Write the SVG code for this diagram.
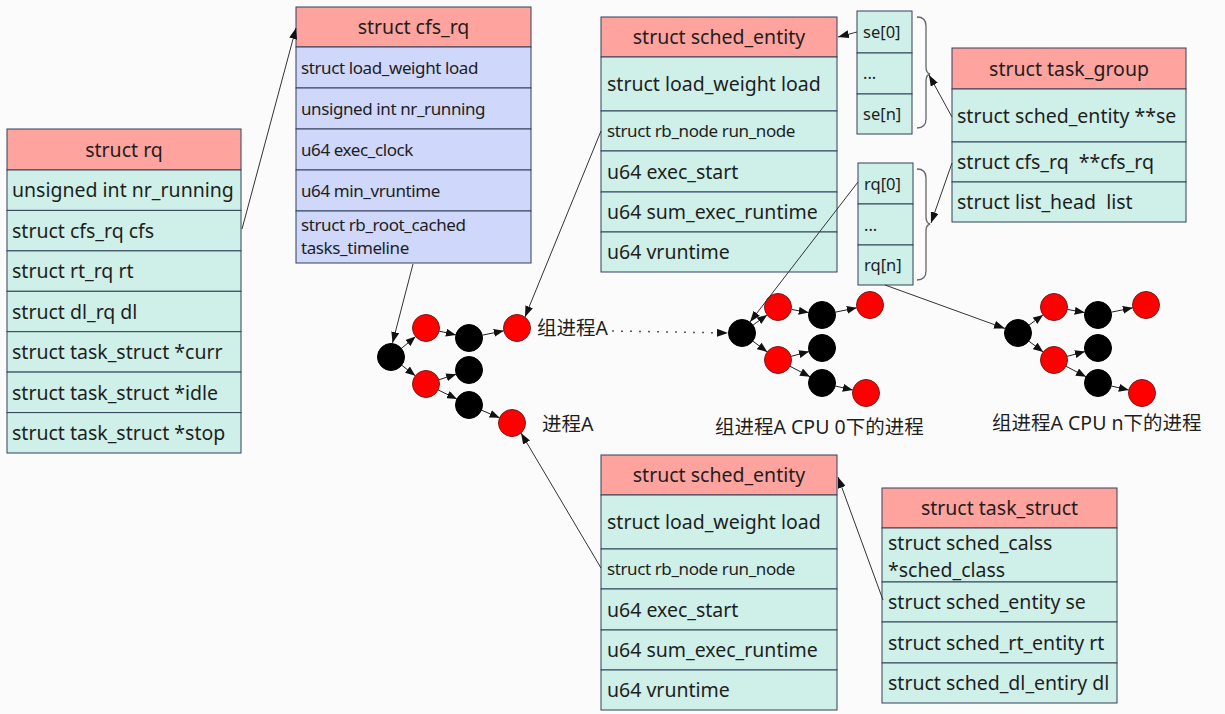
<svg xmlns="http://www.w3.org/2000/svg" width="1225" height="714" viewBox="0 0 1225 714">
<style>
.hd{fill:#ffa39e;stroke:#33415a;stroke-width:1}
.rw{fill:#cff0e8;stroke:#33415a;stroke-width:1}
.lv{fill:#cfd7fb;stroke:#33415a;stroke-width:1}
text{font-family:"Noto Sans","Noto Sans CJK SC",sans-serif;fill:#1e1e1e}
.t{font-size:19.5px}
.h{font-size:19.5px;text-anchor:middle}
.c{font-size:17px;letter-spacing:-0.4px}
.s{font-size:16.5px}
.cn{font-size:19.5px}
.ln{stroke:#333;stroke-width:1;fill:none}
.te{stroke:#222;stroke-width:1;fill:none}
.br{stroke:#666;stroke-width:1.3;fill:none}
.red{fill:#ff0000;stroke:#7a1a1a;stroke-width:1}
.blk{fill:#000;stroke:#000;stroke-width:1}
</style>
<defs>
<marker id="ah" markerUnits="userSpaceOnUse" markerWidth="11" markerHeight="8" refX="11" refY="4" orient="auto"><path d="M0,0 L11,4 L0,8 z" fill="#111"/></marker>
<marker id="ta" markerUnits="userSpaceOnUse" markerWidth="10" markerHeight="8" refX="10" refY="4" orient="auto"><path d="M0,0 L10,4 L0,8 z" fill="#111"/></marker>
</defs>
<rect width="1225" height="714" fill="#fbfbfb"/>

<g id="rq">
<rect class="hd" x="7" y="129" width="234" height="41"/>
<text class="h" x="124" y="156.5">struct rq</text>
<rect class="rw" x="7" y="170" width="234" height="40.4"/>
<rect class="rw" x="7" y="210.4" width="234" height="40.5"/>
<rect class="rw" x="7" y="250.9" width="234" height="40.4"/>
<rect class="rw" x="7" y="291.3" width="234" height="40.4"/>
<rect class="rw" x="7" y="331.7" width="234" height="40.4"/>
<rect class="rw" x="7" y="372.1" width="234" height="40.5"/>
<rect class="rw" x="7" y="412.6" width="234" height="40.4"/>
<text class="t" x="12" y="197">unsigned int nr_running</text>
<text class="t" x="12" y="237.5">struct cfs_rq cfs</text>
<text class="t" x="12" y="278">struct rt_rq rt</text>
<text class="t" x="12" y="318.5">struct dl_rq dl</text>
<text class="t" x="12" y="359">struct task_struct *curr</text>
<text class="t" x="12" y="399.5">struct task_struct *idle</text>
<text class="t" x="12" y="440">struct task_struct *stop</text>
</g>

<g id="cfs_rq">
<rect class="hd" x="296" y="7" width="235" height="40"/>
<text class="h" x="413.5" y="34">struct cfs_rq</text>
<rect class="lv" x="296" y="47" width="235" height="41"/>
<rect class="lv" x="296" y="88" width="235" height="41"/>
<rect class="lv" x="296" y="129" width="235" height="41"/>
<rect class="lv" x="296" y="170" width="235" height="41"/>
<rect class="lv" x="296" y="211" width="235" height="52"/>
<text class="c" x="301" y="73.5">struct load_weight load</text>
<text class="c" x="301" y="114.5">unsigned int nr_running</text>
<text class="c" x="301" y="155.5">u64 exec_clock</text>
<text class="c" x="301" y="196.5">u64 min_vruntime</text>
<text class="c" x="301" y="231">struct rb_root_cached</text>
<text class="c" x="301" y="254">tasks_timeline</text>
</g>

<g id="sched_entity_top">
<rect class="hd" x="601" y="17" width="236" height="40"/>
<text class="h" x="719" y="44">struct sched_entity</text>
<rect class="rw" x="601" y="57" width="236" height="54"/>
<rect class="rw" x="601" y="111" width="236" height="40"/>
<rect class="rw" x="601" y="151" width="236" height="41"/>
<rect class="rw" x="601" y="192" width="236" height="40"/>
<rect class="rw" x="601" y="232" width="236" height="40"/>
<text class="t" x="607" y="91">struct load_weight load</text>
<text class="c" x="607" y="137">struct rb_node run_node</text>
<text class="t" x="607" y="178.5">u64 exec_start</text>
<text class="t" x="607" y="219">u64 sum_exec_runtime</text>
<text class="t" x="607" y="259">u64 vruntime</text>
</g>

<g id="se_array">
<rect class="rw" x="857" y="11" width="55" height="42"/>
<rect class="rw" x="857" y="53" width="55" height="41"/>
<rect class="rw" x="857" y="94" width="55" height="40"/>
<text class="s" x="863" y="38">se[0]</text>
<text class="s" x="863" y="79">...</text>
<text class="s" x="863" y="120">se[n]</text>
<path class="br" d="M917,17 Q926,17 926,26 L926,67 Q926,73 930,74 Q926,75 926,81 L926,119 Q926,128 917,128"/>
</g>

<g id="task_group">
<rect class="hd" x="952" y="48" width="234" height="41"/>
<text class="h" x="1069" y="75.5">struct task_group</text>
<rect class="rw" x="952" y="89" width="234" height="53"/>
<rect class="rw" x="952" y="142" width="234" height="40"/>
<rect class="rw" x="952" y="182" width="234" height="40"/>
<text class="t" x="957" y="122.5">struct sched_entity **se</text>
<text class="t" x="957" y="169" xml:space="preserve">struct cfs_rq  **cfs_rq</text>
<text class="t" x="957" y="209" xml:space="preserve">struct list_head  list</text>
</g>

<g id="rq_array">
<rect class="rw" x="858" y="163" width="55" height="41"/>
<rect class="rw" x="858" y="204" width="55" height="41"/>
<rect class="rw" x="858" y="245" width="55" height="40"/>
<text class="s" x="864" y="190">rq[0]</text>
<text class="s" x="864" y="231">...</text>
<text class="s" x="864" y="271">rq[n]</text>
<path class="br" d="M917,169 Q926,169 926,178 L926,217 Q926,223 930,224 Q926,225 926,231 L926,271 Q926,280 917,280"/>
</g>

<g id="sched_entity_bottom">
<rect class="hd" x="601" y="455" width="236" height="40"/>
<text class="h" x="719" y="482">struct sched_entity</text>
<rect class="rw" x="601" y="495" width="236" height="54"/>
<rect class="rw" x="601" y="549" width="236" height="40"/>
<rect class="rw" x="601" y="589" width="236" height="41"/>
<rect class="rw" x="601" y="630" width="236" height="40"/>
<rect class="rw" x="601" y="670" width="236" height="40"/>
<text class="t" x="607" y="529">struct load_weight load</text>
<text class="c" x="607" y="575">struct rb_node run_node</text>
<text class="t" x="607" y="616.5">u64 exec_start</text>
<text class="t" x="607" y="657">u64 sum_exec_runtime</text>
<text class="t" x="607" y="697">u64 vruntime</text>
</g>

<g id="task_struct">
<rect class="hd" x="882" y="488" width="235" height="40"/>
<text class="h" x="999.5" y="515">struct task_struct</text>
<rect class="rw" x="882" y="528" width="235" height="54"/>
<rect class="rw" x="882" y="582" width="235" height="40"/>
<rect class="rw" x="882" y="622" width="235" height="41"/>
<rect class="rw" x="882" y="663" width="235" height="40"/>
<text class="t" x="888" y="550">struct sched_calss</text>
<text class="t" x="888" y="577">*sched_class</text>
<text class="t" x="888" y="609">struct sched_entity se</text>
<text class="t" x="888" y="649.5">struct sched_rt_entity rt</text>
<text class="t" x="888" y="690">struct sched_dl_entiry dl</text>
</g>

<g id="tree_main">
<g class="te">
<line x1="401.4" y1="348.4" x2="415.6" y2="336.6" marker-end="url(#ta)"/>
<line x1="439.1" y1="331.1" x2="455.9" y2="334.9" marker-end="url(#ta)"/>
<line x1="482.2" y1="335.2" x2="503.8" y2="330.8" marker-end="url(#ta)"/>
<line x1="401.7" y1="365.2" x2="415.3" y2="375.8" marker-end="url(#ta)"/>
<line x1="438.8" y1="379.8" x2="456.2" y2="374.2" marker-end="url(#ta)"/>
<line x1="438.1" y1="389.9" x2="456.9" y2="399.1" marker-end="url(#ta)"/>
<line x1="481.5" y1="410.2" x2="499.6" y2="417.8" marker-end="url(#ta)"/>
</g>
<circle class="blk" cx="391" cy="357" r="13.5"/>
<circle class="red" cx="426" cy="328" r="13.5"/>
<circle class="blk" cx="469" cy="338" r="13.5"/>
<circle class="red" cx="517" cy="328" r="13.5"/>
<circle class="red" cx="426" cy="384" r="13.5"/>
<circle class="blk" cx="469" cy="370" r="13.5"/>
<circle class="blk" cx="469" cy="405" r="13.5"/>
<circle class="red" cx="512" cy="423" r="13.5"/>
<text class="cn" x="537" y="335">组进程A</text>
<text class="cn" x="542" y="431">进程A</text>
</g>

<g id="tree_cpu0">
<g class="te">
<line x1="753" y1="325.1" x2="767.1" y2="314.9" marker-end="url(#ta)"/>
<line x1="791.3" y1="309.4" x2="808.7" y2="312.6" marker-end="url(#ta)"/>
<line x1="835.2" y1="312.2" x2="856.8" y2="307.8" marker-end="url(#ta)"/>
<line x1="752.8" y1="341.1" x2="767.2" y2="351.9" marker-end="url(#ta)"/>
<line x1="791" y1="356.4" x2="809" y2="351.6" marker-end="url(#ta)"/>
<line x1="790" y1="366.3" x2="810" y2="376.7" marker-end="url(#ta)"/>
<line x1="835.2" y1="386" x2="852.8" y2="390" marker-end="url(#ta)"/>
</g>
<circle class="blk" cx="742" cy="333" r="13.5"/>
<circle class="red" cx="778" cy="307" r="13.5"/>
<circle class="blk" cx="822" cy="315" r="13.5"/>
<circle class="red" cx="870" cy="305" r="13.5"/>
<circle class="red" cx="778" cy="360" r="13.5"/>
<circle class="blk" cx="822" cy="348" r="13.5"/>
<circle class="blk" cx="822" cy="383" r="13.5"/>
<circle class="red" cx="866" cy="393" r="13.5"/>
<text class="cn" x="715" y="434">组进程A CPU 0下的进程</text>
</g>

<g id="tree_cpun">
<g transform="translate(276,0)">
<g class="te">
<line x1="753" y1="325.1" x2="767.1" y2="314.9" marker-end="url(#ta)"/>
<line x1="791.3" y1="309.4" x2="808.7" y2="312.6" marker-end="url(#ta)"/>
<line x1="835.2" y1="312.2" x2="856.8" y2="307.8" marker-end="url(#ta)"/>
<line x1="752.8" y1="341.1" x2="767.2" y2="351.9" marker-end="url(#ta)"/>
<line x1="791" y1="356.4" x2="809" y2="351.6" marker-end="url(#ta)"/>
<line x1="790" y1="366.3" x2="810" y2="376.7" marker-end="url(#ta)"/>
<line x1="835.2" y1="386" x2="852.8" y2="390" marker-end="url(#ta)"/>
</g>
<circle class="blk" cx="742" cy="333" r="13.5"/>
<circle class="red" cx="778" cy="307" r="13.5"/>
<circle class="blk" cx="822" cy="315" r="13.5"/>
<circle class="red" cx="870" cy="305" r="13.5"/>
<circle class="red" cx="778" cy="360" r="13.5"/>
<circle class="blk" cx="822" cy="348" r="13.5"/>
<circle class="blk" cx="822" cy="383" r="13.5"/>
<circle class="red" cx="866" cy="393" r="13.5"/>
</g>
<text class="cn" x="992" y="430">组进程A CPU n下的进程</text>
</g>

<g id="connectors" class="ln">
<line x1="242" y1="229" x2="296" y2="28" marker-end="url(#ah)"/>
<line x1="413" y1="264" x2="392.5" y2="343" marker-end="url(#ah)"/>
<line x1="601" y1="131" x2="525" y2="317" marker-end="url(#ah)"/>
<line x1="601" y1="568" x2="521" y2="433" marker-end="url(#ah)"/>
<line x1="857" y1="32" x2="838" y2="37" marker-end="url(#ah)"/>
<line x1="952" y1="117" x2="929" y2="75" marker-end="url(#ah)"/>
<line x1="952" y1="163" x2="931" y2="223" marker-end="url(#ah)"/>
<line x1="858" y1="182" x2="750" y2="322" marker-end="url(#ah)"/>
<line x1="885" y1="285" x2="1005" y2="328.5" marker-end="url(#ah)"/>
<line x1="883" y1="600" x2="838" y2="477" marker-end="url(#ah)"/>
<line x1="612" y1="331" x2="728" y2="333" stroke="#555" stroke-width="1.5" stroke-dasharray="2 7" marker-end="url(#ah)"/>
</g>
</svg>
